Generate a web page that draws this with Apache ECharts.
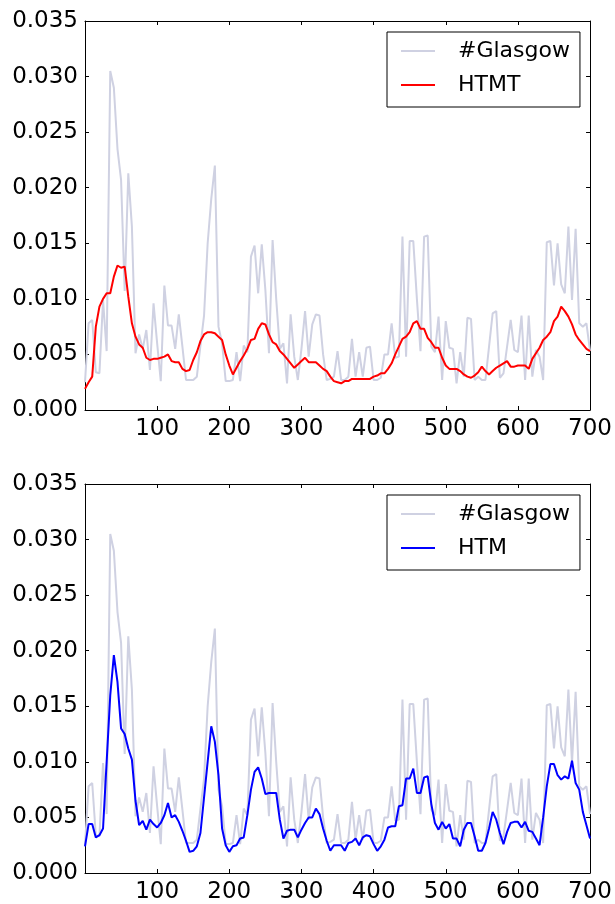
<!DOCTYPE html>
<html>
<head>
<meta charset="utf-8">
<script src="https://cdn.jsdelivr.net/npm/echarts@6/dist/echarts.min.js"></script>
<style>
html,body{margin:0;padding:0;background:#fff;}
#chart{width:615px;height:904px;}
</style>
</head>
<body>
<div id="chart"></div>
<script>
const xs = [0,5,10,15,20,25,30,35,40,45,50,55,60,65,70,75,80,85,90,95,
100,105,110,115,120,125,130,135,140,145,150,155,160,165,170,175,180,185,190,195,
200,205,210,215,220,225,230,235,240,245,250,255,260,265,270,275,280,285,290,295,
300,305,310,315,320,325,330,335,340,345,350,355,360,365,370,375,380,385,390,395,
400,405,410,415,420,425,430,435,440,445,450,455,460,465,470,475,480,485,490,495,
500,505,510,515,520,525,530,535,540,545,550,555,560,565,570,575,580,585,590,595,
600,605,610,615,620,625,630,635,640,645,650,655,660,665,670,675,680,685,690,695,700];

const glasgow = [0.0025,0.0078,0.0081,0.0034,0.0033,0.0099,0.0053,0.0305,0.0290,0.0235,
0.0207,0.0107,0.0213,0.0165,0.0051,0.0068,0.0055,0.0072,0.0036,0.0096,
0.0060,0.0026,0.0112,0.0076,0.0076,0.0055,0.0086,0.0057,0.0027,0.0027,
0.0027,0.0030,0.0058,0.0085,0.0150,0.0190,0.0220,0.0075,0.0060,0.0026,
0.0026,0.0027,0.0052,0.0026,0.0058,0.0052,0.0138,0.0148,0.0105,0.0149,
0.0108,0.0051,0.0153,0.0100,0.0055,0.0060,0.0024,0.0086,0.0048,0.0027,
0.0055,0.0089,0.0048,0.0077,0.0086,0.0085,0.0050,0.0027,0.0028,0.0030,
0.0053,0.0027,0.0027,0.0030,0.0064,0.0030,0.0052,0.0030,0.0056,0.0057,
0.0027,0.0027,0.0029,0.0050,0.0050,0.0078,0.0047,0.0048,0.0156,0.0048,
0.0152,0.0152,0.0100,0.0053,0.0156,0.0157,0.0057,0.0052,0.0084,0.0027,
0.0080,0.0056,0.0055,0.0024,0.0052,0.0030,0.0083,0.0082,0.0027,0.0030,
0.0027,0.0027,0.0057,0.0087,0.0089,0.0029,0.0033,0.0057,0.0081,0.0054,
0.0052,0.0085,0.0027,0.0085,0.0030,0.0054,0.0048,0.0027,0.0151,0.0152,
0.0112,0.0150,0.0113,0.0105,0.0165,0.0099,0.0163,0.0078,0.0075,0.0078,0.0053];

const htmt = [0.0019,0.0025,0.0030,0.0075,0.0093,0.0100,0.0105,0.0105,0.0120,0.0130,
0.0128,0.0129,0.0102,0.0078,0.0066,0.0059,0.0056,0.0047,0.0045,0.0046,
0.0046,0.0047,0.0048,0.0050,0.0044,0.0043,0.0043,0.0037,0.0035,0.0036,
0.0045,0.0052,0.0062,0.0068,0.0070,0.0070,0.0069,0.0066,0.0063,0.0050,
0.0040,0.0032,0.0038,0.0044,0.0049,0.0055,0.0063,0.0064,0.0073,0.0078,
0.0077,0.0068,0.0061,0.0059,0.0053,0.0050,0.0046,0.0042,0.0038,0.0041,
0.0044,0.0047,0.0043,0.0043,0.0043,0.0040,0.0037,0.0035,0.0030,0.0026,
0.0025,0.0024,0.0026,0.0026,0.0028,0.0028,0.0028,0.0028,0.0028,0.0028,
0.0030,0.0031,0.0033,0.0033,0.0037,0.0042,0.0050,0.0057,0.0064,0.0066,
0.0070,0.0078,0.0080,0.0073,0.0073,0.0065,0.0061,0.0056,0.0056,0.0047,
0.0040,0.0037,0.0037,0.0037,0.0035,0.0032,0.0030,0.0029,0.0031,0.0034,
0.0039,0.0035,0.0032,0.0035,0.0038,0.0040,0.0042,0.0044,0.0039,0.0039,
0.0040,0.0040,0.0040,0.0037,0.0046,0.0051,0.0056,0.0063,0.0066,0.0070,
0.0080,0.0084,0.0093,0.0089,0.0084,0.0077,0.0068,0.0063,0.0059,0.0055,0.0053];

const htm = [0.0024,0.0044,0.0044,0.0032,0.0034,0.0040,0.0100,0.0160,0.0196,0.0172,
0.0130,0.0125,0.0112,0.0102,0.0065,0.0043,0.0047,0.0039,0.0048,0.0044,
0.0041,0.0045,0.0052,0.0063,0.0050,0.0052,0.0046,0.0038,0.0029,0.0019,
0.0020,0.0024,0.0036,0.0068,0.0100,0.0132,0.0118,0.0088,0.0040,0.0025,
0.0019,0.0024,0.0025,0.0031,0.0032,0.0052,0.0075,0.0091,0.0095,0.0085,
0.0071,0.0072,0.0072,0.0072,0.0048,0.0031,0.0038,0.0039,0.0039,0.0032,
0.0039,0.0045,0.0050,0.0050,0.0058,0.0053,0.0040,0.0029,0.0020,0.0025,
0.0025,0.0025,0.0020,0.0027,0.0028,0.0031,0.0025,0.0032,0.0034,0.0033,
0.0026,0.0020,0.0024,0.0030,0.0041,0.0042,0.0042,0.0060,0.0061,0.0085,
0.0085,0.0094,0.0072,0.0072,0.0086,0.0087,0.0062,0.0045,0.0039,0.0046,
0.0040,0.0044,0.0031,0.0031,0.0024,0.0039,0.0045,0.0045,0.0033,0.0020,
0.0020,0.0027,0.0040,0.0055,0.0048,0.0036,0.0026,0.0037,0.0045,0.0046,
0.0046,0.0041,0.0046,0.0038,0.0037,0.0031,0.0025,0.0050,0.0078,0.0098,
0.0098,0.0088,0.0084,0.0087,0.0085,0.0101,0.0081,0.0075,0.0055,0.0043,0.0031];

const xTickLabels = ['100','200','300','400','500','600','700'];
const yTickLabels = ['0.000','0.005','0.010','0.015','0.020','0.025','0.030','0.035'];

const FONT = 'DejaVu Sans';
const pairs = (arr) => arr.map((v, i) => [xs[i], v]);

const chart = echarts.init(document.getElementById('chart'), null, {renderer: 'canvas'});

function xAxisDef(grid, pos, showLabel) {
  return {
    type: 'value', gridIndex: grid, position: pos,
    min: 0, max: 700, interval: 100,
    axisLine: {show: true, onZero: false, lineStyle: {color: '#000', width: 1}},
    axisTick: {show: true, inside: true, length: 4, lineStyle: {color: '#000', width: 1}},
    splitLine: {show: false},
    axisLabel: {
      show: showLabel, showMinLabel: false, margin: 8,
      fontFamily: FONT, fontSize: 23, color: '#000',
      formatter: (v) => { const i = Math.round(v / 100) - 1; return xTickLabels[i] || ''; }
    }
  };
}
function yAxisDef(grid, pos, showLabel) {
  return {
    type: 'value', gridIndex: grid, position: pos,
    min: 0, max: 0.035, interval: 0.005,
    axisLine: {show: true, onZero: false, lineStyle: {color: '#000', width: 1}},
    axisTick: {show: true, inside: true, length: 4, lineStyle: {color: '#000', width: 1}},
    splitLine: {show: false},
    axisLabel: {
      show: showLabel, margin: 7,
      fontFamily: FONT, fontSize: 23, color: '#000',
      formatter: (v) => yTickLabels[Math.round(v / 0.005)]
    }
  };
}

function legendDef(top, names) {
  return {
    orient: 'vertical', left: 387, top: top,
    data: names.map((n) => ({name: n, icon: 'rect'})),
    itemWidth: 34, itemHeight: 2, itemGap: 12,
    padding: [8, 10, 11, 14],
    borderColor: '#000', borderWidth: 1, backgroundColor: '#fff',
    textStyle: {fontFamily: FONT, fontSize: 22, color: '#000', lineHeight: 22, padding: [0, 0, 0, 18]},
    selectedMode: false
  };
}

const glasgowStyle = {color: '#cfd1e2', width: 2};

chart.setOption({
  animation: false,
  backgroundColor: '#fff',
  grid: [
    {left: 85, top: 21, width: 507, height: 389},
    {left: 85, top: 484, width: 507, height: 389}
  ],
  xAxis: [xAxisDef(0, 'bottom', true), xAxisDef(0, 'top', false), xAxisDef(1, 'bottom', true), xAxisDef(1, 'top', false)],
  yAxis: [yAxisDef(0, 'left', true), yAxisDef(0, 'right', false), yAxisDef(1, 'left', true), yAxisDef(1, 'right', false)],
  legend: [legendDef(32, ['#Glasgow', 'HTMT']), legendDef(495, ['#Glasgow', 'HTM'])],
  series: [
    {name: '#Glasgow', type: 'line', xAxisIndex: 0, yAxisIndex: 0, data: pairs(glasgow), symbol: 'none',
     lineStyle: glasgowStyle, itemStyle: {color: '#cfd1e2'}, z: 1},
    {name: 'HTMT', type: 'line', xAxisIndex: 0, yAxisIndex: 0, data: pairs(htmt), symbol: 'none',
     lineStyle: {color: '#ff0000', width: 2}, itemStyle: {color: '#ff0000'}, z: 2},
    {name: '#Glasgow', type: 'line', xAxisIndex: 2, yAxisIndex: 2, data: pairs(glasgow), symbol: 'none',
     lineStyle: glasgowStyle, itemStyle: {color: '#cfd1e2'}, z: 1},
    {name: 'HTM', type: 'line', xAxisIndex: 2, yAxisIndex: 2, data: pairs(htm), symbol: 'none',
     lineStyle: {color: '#0000ff', width: 2}, itemStyle: {color: '#0000ff'}, z: 2}
  ]
});
</script>
</body>
</html>
